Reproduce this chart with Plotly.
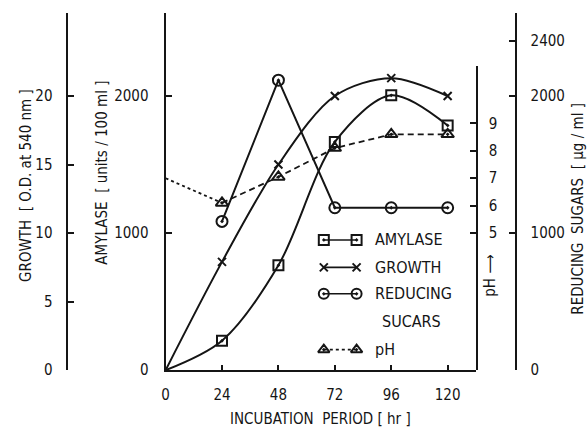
import plotly.graph_objects as go

# Time course of a batch culture: amylase, growth, reducing sugars and pH
hours = [0, 24, 48, 72, 96, 120]
amylase = [0, 215, 765, 1665, 2005, 1785]          # units / 100 ml
growth = [0, 7.9, 15.0, 20.0, 21.3, 20.0]          # O.D. at 540 nm
sugar_hours = [24, 48, 72, 96, 120]
reducing_sugars = [1085, 2115, 1185, 1185, 1185]   # µg / ml
ph = [7.0, 6.1, 7.05, 8.1, 8.6, 8.6]

x_ticks = [0, 24, 48, 72, 96, 120]
growth_ticks = [0, 5, 10, 15, 20]
amylase_ticks = [0, 1000, 2000]
ph_ticks = [5, 6, 7, 8, 9]
sugar_ticks = [0, 1000, 2000, 2400]

legend_rows = ["AMYLASE", "GROWTH", "REDUCING", "pH"]

# ---- page geometry (pixels) ----
W, H = 588, 436
INK = "#151515"
FONT = "DejaVu Sans Condensed, DejaVu Sans, sans-serif"
X0_PX, X1_PX = 162.7, 475.0      # plot area left / right
Y0_PX = 378.0                    # common zero line of all value axes
TOP_PX = 13.0                    # top of growth / amylase / sugar axes
PH_TOP_PX = 67.0                 # top of the pH axis
PX_PER_HR = (446.7 - 162.7) / 120
PX_PER_UNIT = 0.14               # amylase and sugars: px per unit
PX_PER_PH = 28.0


def fx(px):
    return px / W


def fy(px):
    return (H - px) / H


x_max = (X1_PX - X0_PX) / PX_PER_HR
amy_max = (Y0_PX - TOP_PX) / PX_PER_UNIT
growth_max = amy_max / 100.0
ph_max = (Y0_PX - PH_TOP_PX) / PX_PER_PH

line = dict(color=INK, width=2)
mk_line = dict(color=INK, width=2)

fig = go.Figure()

# Amylase (smooth curve, squares)
fig.add_trace(go.Scatter(
    x=hours, y=amylase, mode="lines", line=dict(shape="spline", smoothing=0.9, **line),
    xaxis="x", yaxis="y", showlegend=False, hoverinfo="skip"))
fig.add_trace(go.Scatter(
    x=hours[1:], y=amylase[1:], mode="markers",
    marker=dict(symbol="square-open-dot", size=10, color=INK, line=mk_line),
    xaxis="x", yaxis="y", showlegend=False))

# Growth (smooth curve, crosses)
fig.add_trace(go.Scatter(
    x=hours, y=growth, mode="lines", line=dict(shape="spline", smoothing=0.9, **line),
    xaxis="x", yaxis="y2", showlegend=False, hoverinfo="skip"))
fig.add_trace(go.Scatter(
    x=hours[1:], y=growth[1:], mode="markers",
    marker=dict(symbol="x-thin-open", size=8, color=INK, line=mk_line),
    xaxis="x", yaxis="y2", showlegend=False))

# Reducing sugars (straight segments, circles)
fig.add_trace(go.Scatter(
    x=sugar_hours, y=reducing_sugars, mode="lines+markers", line=line,
    marker=dict(symbol="circle-open-dot", size=11, color=INK, line=mk_line),
    xaxis="x", yaxis="y4", showlegend=False))

# pH (dotted start, dashed afterwards, triangles)
fig.add_trace(go.Scatter(
    x=hours[:2], y=ph[:2], mode="lines",
    line=dict(color=INK, width=1.8, dash="3px,3px"),
    xaxis="x", yaxis="y3", showlegend=False, hoverinfo="skip"))
fig.add_trace(go.Scatter(
    x=hours[1:], y=ph[1:], mode="lines+markers",
    line=dict(color=INK, width=1.8, dash="6px,4px"),
    marker=dict(symbol="triangle-up-open-dot", size=11, color=INK, line=mk_line),
    xaxis="x", yaxis="y3", showlegend=False))

# ---- legend glyphs, drawn on a hidden pixel-space axis pair ----
LEG_Y = [245, 273, 300, 357]
LEG_X = [322, 355]
LEG_TEXT_X = 372
leg_syms = ["square-open-dot", "x-thin-open", "circle-open-dot", "triangle-up-open-dot"]
leg_size = [10, 8, 10, 10]
leg_dash = ["solid", "solid", "solid", "3px,3px"]
for yy, sym, sz, dash in zip(LEG_Y, leg_syms, leg_size, leg_dash):
    fig.add_trace(go.Scatter(
        x=LEG_X, y=[yy, yy], mode="lines+markers",
        line=dict(color=INK, width=1.6, dash=dash),
        marker=dict(symbol=sym, size=sz, color=INK, line=mk_line),
        xaxis="x2", yaxis="y5", showlegend=False, hoverinfo="skip"))

axis_common = dict(showline=True, linecolor=INK, linewidth=2.2, ticks="inside",
                   tickcolor=INK, tickwidth=2, ticklen=6, showgrid=False, zeroline=False,
                   tickfont=dict(family=FONT, size=15, color=INK),
                   fixedrange=True)

dom_y = [fy(Y0_PX), fy(TOP_PX)]
fig.update_layout(
    width=W, height=H, margin=dict(l=0, r=0, t=0, b=0),
    paper_bgcolor="white", plot_bgcolor="rgba(0,0,0,0)", showlegend=False,
    xaxis=dict(domain=[fx(X0_PX), fx(X1_PX)], range=[0, x_max], tickvals=x_ticks,
               anchor="y", **{**axis_common, "ticklen": 5}, ticklabelstandoff=10),
    yaxis=dict(domain=dom_y, range=[0, amy_max], tickvals=amylase_ticks,
               anchor="x", side="left", ticklabelstandoff=12, **axis_common),
    yaxis2=dict(range=[0, growth_max], tickvals=growth_ticks, overlaying="y",
                anchor="free", position=fx(63), side="left", ticklabelstandoff=10,
                **axis_common),
    yaxis3=dict(domain=[fy(Y0_PX), fy(PH_TOP_PX)], range=[0, ph_max], tickvals=ph_ticks,
                anchor="x", side="right", ticklabelstandoff=8, **axis_common),
    yaxis4=dict(range=[0, amy_max], tickvals=sugar_ticks, overlaying="y",
                anchor="free", position=fx(516), side="right", ticklabelstandoff=10,
                **axis_common),
    xaxis2=dict(domain=[0, 1], range=[0, W], visible=False, anchor="y5", fixedrange=True),
    yaxis5=dict(domain=[0, 1], range=[H, 0], visible=False, anchor="x2", fixedrange=True),
)


def text(x, y, s, size=14, angle=0, xanchor="center"):
    fig.add_annotation(x=fx(x), y=fy(y), xref="paper", yref="paper", text=s,
                       showarrow=False, textangle=angle, xanchor=xanchor, yanchor="middle",
                       font=dict(family=FONT, size=size, color=INK))


# axis titles
text(22, 189, "GROWTH  [ O.D. at 540 nm ]", 15, -90)
text(99, 176, "AMYLASE  [ units / 100 ml ]", 15, -90)
text(578, 213, "REDUCING  SUGARS  [ µg / ml ]", 15, -90)
text(490, 282, "pH ⟶", 15, -90)
text(319, 428, "INCUBATION  PERIOD [ hr ]", 15)

# legend labels
for yy, lab in zip(LEG_Y, legend_rows):
    text(LEG_TEXT_X, yy, lab, 16, xanchor="left")
text(410, 328, "SUCARS", 16)

fig.write_html("out.html")
